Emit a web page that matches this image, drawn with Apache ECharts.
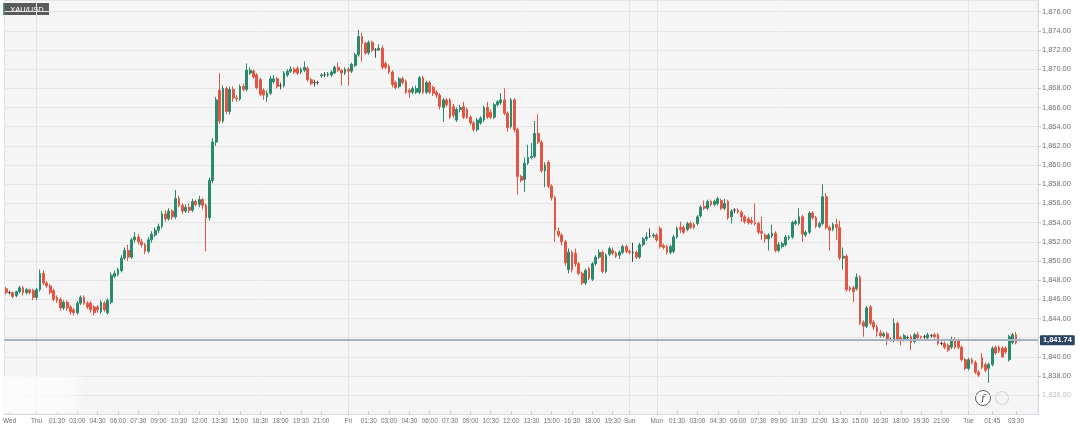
<!DOCTYPE html>
<html>
<head>
<meta charset="utf-8">
<script src="https://cdn.jsdelivr.net/npm/echarts@6/dist/echarts.min.js"></script>
<style>
html,body{margin:0;padding:0;background:#fff;}
#chart{width:1080px;height:428px;}
</style>
</head>
<body>
<div id="chart"></div>
<script>
// ---- trading sessions (day, first candle time, number of 15-minute candles) ----
const sessions = [
  ['Wed','20:45',5],['Wed','23:00',4],
  ['Thu','00:00',88],['Thu','23:00',4],
  ['Fri','00:00',83],
  ['Sun','22:00',8],
  ['Mon','00:00',88],['Mon','23:00',4],
  ['Tue','00:00',21]
];

// ---- x tick labels: [category, shown text] ----
const tickLabels = [
  ['Wed 21:00','Wed'],
  ['Thu 00:00','Thu'],['Thu 01:30','01:30'],['Thu 03:00','03:00'],['Thu 04:30','04:30'],['Thu 06:00','06:00'],
  ['Thu 07:30','07:30'],['Thu 09:00','09:00'],['Thu 10:30','10:30'],['Thu 12:00','12:00'],['Thu 13:30','13:30'],
  ['Thu 15:00','15:00'],['Thu 16:30','16:30'],['Thu 18:00','18:00'],['Thu 19:30','19:30'],['Thu 21:00','21:00'],
  ['Fri 00:00','Fri'],['Fri 01:30','01:30'],['Fri 03:00','03:00'],['Fri 04:30','04:30'],['Fri 06:00','06:00'],
  ['Fri 07:30','07:30'],['Fri 09:00','09:00'],['Fri 10:30','10:30'],['Fri 12:00','12:00'],['Fri 13:30','13:30'],
  ['Fri 15:00','15:00'],['Fri 16:30','16:30'],['Fri 18:00','18:00'],['Fri 19:30','19:30'],
  ['Sun 22:00','Sun'],
  ['Mon 00:00','Mon'],['Mon 01:30','01:30'],['Mon 03:00','03:00'],['Mon 04:30','04:30'],['Mon 06:00','06:00'],
  ['Mon 07:30','07:30'],['Mon 09:00','09:00'],['Mon 10:30','10:30'],['Mon 12:00','12:00'],['Mon 13:30','13:30'],
  ['Mon 15:00','15:00'],['Mon 16:30','16:30'],['Mon 18:00','18:00'],['Mon 19:30','19:30'],['Mon 21:00','21:00'],
  ['Tue 00:00','Tue'],['Tue 01:45','01:45'],['Tue 03:30','03:30']
];

// ---- day separators ----
const dayStarts = ['Thu 00:00','Fri 00:00','Sun 22:00','Mon 00:00','Tue 00:00'];

// ---- y axis ticks ----
const yMin = 1834, yMax = 1877.22, yStep = 2;

// ---- last price ----
const lastPrice = 1841.74;

// ---- XAU/USD 15-minute candles: [open, close, low, high] ----
const candles = [
[1847.1,1846.7,1846.5,1847.3],[1846.7,1846.7,1846.5,1846.9],[1846.7,1846.3,1846.1,1846.8],[1846.4,1846.8,1846.2,1846.9],
[1846.8,1847.2,1846.6,1847.4],[1847.2,1846.7,1846.4,1847.4],[1846.7,1847.0,1846.5,1847.2],[1847.0,1846.7,1846.5,1847.1],
[1846.9,1846.2,1845.9,1847.1],[1846.2,1847.0,1845.9,1847.2],[1847.0,1848.7,1846.8,1849.1],[1848.7,1847.7,1847.5,1849.0],
[1847.7,1847.4,1847.2,1847.9],[1847.4,1846.7,1846.5,1847.6],[1846.9,1846.0,1845.8,1847.1],[1846.2,1845.9,1845.6,1846.4],
[1846.0,1845.1,1844.8,1846.2],[1845.1,1845.7,1844.9,1845.9],[1845.7,1845.1,1844.8,1845.9],[1845.2,1844.7,1844.4,1845.4],
[1844.9,1844.6,1844.3,1845.1],[1844.6,1845.6,1844.4,1845.8],[1845.6,1846.2,1845.4,1846.4],[1846.2,1845.6,1845.4,1846.4],
[1845.6,1845.2,1845.0,1845.8],[1845.6,1844.9,1844.6,1845.8],[1845.2,1844.6,1844.3,1845.4],[1845.2,1844.9,1844.6,1845.4],
[1844.7,1845.7,1844.5,1845.9],[1845.6,1844.9,1844.7,1845.8],[1844.6,1845.9,1844.4,1846.1],[1845.7,1848.5,1845.5,1848.8],
[1848.4,1848.7,1848.2,1849.0],[1848.6,1849.1,1848.4,1849.3],[1849.0,1850.3,1848.8,1850.6],[1850.3,1851.1,1850.1,1851.4],
[1851.1,1850.4,1850.0,1851.7],[1850.4,1852.2,1850.2,1852.4],[1852.2,1852.5,1851.9,1853.0],[1852.5,1852.0,1851.7,1852.8],
[1852.0,1851.7,1851.4,1852.3],[1851.7,1851.0,1850.7,1851.9],[1851.0,1852.2,1850.8,1852.5],[1852.2,1852.8,1851.9,1853.1],
[1852.7,1853.2,1852.5,1853.5],[1853.2,1853.6,1852.9,1853.9],[1853.6,1854.9,1853.4,1855.2],[1854.9,1854.4,1854.1,1855.3],
[1854.4,1855.2,1854.2,1855.5],[1855.2,1854.6,1854.3,1855.4],[1854.6,1856.5,1854.4,1857.4],[1856.5,1855.8,1855.6,1856.8],
[1855.8,1855.2,1854.9,1856.0],[1855.2,1855.6,1855.0,1855.9],[1855.6,1855.3,1855.0,1856.0],[1855.3,1856.2,1855.1,1856.5],
[1856.2,1855.9,1855.7,1856.4],[1855.9,1856.4,1855.6,1856.8],[1856.4,1855.8,1855.4,1856.6],[1855.8,1854.5,1851.0,1856.0],
[1854.5,1858.4,1854.2,1858.7],[1858.4,1862.4,1858.1,1862.8],[1862.4,1866.8,1862.0,1867.1],[1867.8,1864.6,1864.3,1869.6],
[1864.6,1868.0,1864.4,1868.3],[1868.0,1865.6,1865.3,1868.2],[1865.6,1867.9,1865.3,1868.2],[1867.9,1867.0,1866.6,1868.2],
[1867.0,1866.9,1866.6,1867.3],[1866.9,1868.2,1866.7,1868.4],[1868.2,1867.9,1867.7,1868.5],[1867.9,1869.9,1867.7,1870.6],
[1869.6,1869.9,1869.4,1870.2],[1869.8,1869.2,1869.0,1870.0],[1869.4,1868.1,1867.9,1869.6],[1868.9,1867.4,1867.2,1869.1],
[1867.8,1867.3,1866.8,1868.0],[1867.1,1867.5,1866.6,1867.8],[1867.5,1869.0,1867.3,1869.3],[1868.7,1869.0,1868.5,1869.4],
[1869.0,1868.2,1868.0,1869.2],[1868.3,1868.3,1867.9,1868.6],[1868.3,1869.6,1868.1,1869.8],[1869.4,1869.8,1869.2,1870.0],
[1869.8,1870.0,1869.6,1870.3],[1870.0,1869.7,1869.5,1870.2],[1870.1,1869.6,1869.4,1870.3],[1869.7,1870.0,1869.5,1870.2],
[1869.9,1870.2,1869.7,1870.8],[1870.1,1868.9,1868.7,1870.3],[1868.9,1868.5,1868.3,1869.1],[1868.6,1868.6,1868.2,1868.9],
[1868.6,1868.6,1868.4,1868.8],[1869.3,1869.4,1869.1,1869.6],[1869.4,1869.4,1869.2,1869.7],[1869.4,1869.5,1869.2,1869.7],
[1869.4,1869.7,1869.2,1869.9],[1869.6,1870.2,1869.5,1870.4],[1870.2,1869.9,1869.7,1870.7],[1869.9,1869.6,1868.3,1870.0],
[1869.6,1870.0,1869.4,1870.2],[1870.0,1869.8,1868.3,1870.2],[1869.8,1870.5,1869.6,1870.7],[1870.4,1871.5,1870.2,1871.7],
[1871.5,1873.4,1871.3,1874.1],[1873.4,1872.7,1870.8,1873.8],[1872.7,1871.7,1871.5,1872.9],[1871.7,1872.8,1871.5,1873.0],
[1872.8,1872.0,1871.8,1873.0],[1872.0,1872.0,1871.2,1872.2],[1872.0,1872.2,1871.9,1872.6],[1872.2,1870.2,1870.0,1872.5],
[1870.6,1870.2,1870.0,1870.8],[1870.3,1869.7,1869.5,1870.5],[1869.7,1868.4,1868.1,1869.9],[1868.6,1868.1,1867.9,1868.8],
[1868.2,1869.0,1868.0,1869.2],[1869.0,1868.6,1868.4,1869.2],[1868.7,1867.6,1867.4,1868.9],[1867.8,1867.6,1867.0,1868.0],
[1867.6,1868.0,1867.4,1868.2],[1867.6,1868.0,1867.4,1868.3],[1867.6,1869.1,1867.4,1869.3],[1869.1,1867.6,1867.4,1869.3],
[1867.6,1868.6,1867.4,1868.8],[1868.6,1867.6,1867.4,1868.8],[1868.1,1867.5,1867.2,1868.3],[1867.6,1867.3,1867.0,1867.8],
[1867.3,1866.1,1865.8,1867.5],[1866.0,1866.8,1864.5,1867.0],[1866.8,1866.3,1866.1,1867.0],[1866.8,1865.0,1864.8,1867.0],
[1866.1,1865.2,1864.9,1866.4],[1864.7,1865.8,1864.5,1866.0],[1865.8,1866.0,1865.5,1866.3],[1866.1,1865.0,1864.8,1866.6],
[1865.8,1865.0,1864.8,1866.0],[1865.0,1864.4,1864.2,1865.2],[1864.4,1863.7,1863.5,1864.6],[1863.7,1864.7,1863.5,1864.9],
[1864.4,1864.9,1864.2,1865.1],[1864.7,1866.0,1864.5,1866.2],[1866.0,1865.0,1864.8,1866.6],[1865.5,1865.0,1864.8,1865.8],
[1865.0,1866.3,1864.8,1866.5],[1866.3,1866.6,1866.1,1866.8],[1866.5,1866.8,1866.3,1867.5],[1866.8,1865.4,1865.2,1868.0],
[1865.4,1863.9,1863.5,1865.6],[1864.0,1866.8,1863.8,1867.0],[1866.8,1863.7,1863.4,1867.0],[1863.7,1858.8,1856.9,1863.9],
[1858.8,1858.4,1858.2,1859.0],[1858.5,1860.2,1857.2,1860.8],[1860.2,1860.8,1860.0,1862.1],[1860.8,1860.9,1860.6,1862.3],
[1860.9,1863.3,1860.7,1864.6],[1863.3,1862.4,1862.2,1865.3],[1862.4,1859.4,1859.2,1862.6],[1859.4,1860.0,1857.7,1860.3],
[1860.3,1857.8,1857.6,1860.5],[1857.8,1856.6,1856.3,1858.0],[1856.6,1853.2,1852.0,1856.8],[1853.1,1852.7,1852.5,1853.5],
[1852.7,1852.0,1851.6,1852.9],[1852.0,1849.8,1849.5,1852.2],[1849.1,1850.9,1848.7,1851.3],[1850.9,1849.1,1848.8,1851.1],
[1850.8,1849.7,1849.4,1851.3],[1849.7,1848.7,1848.5,1849.9],[1848.7,1847.7,1847.5,1848.9],[1847.7,1849.0,1847.5,1849.2],
[1849.2,1848.2,1848.0,1849.4],[1848.1,1849.7,1847.9,1849.9],[1849.7,1850.4,1849.5,1850.6],[1850.4,1850.9,1850.2,1851.2],
[1850.9,1848.9,1848.7,1851.1],[1848.9,1850.6,1848.7,1850.8],[1850.7,1851.3,1850.5,1851.5],[1851.1,1850.8,1850.6,1851.4],
[1850.8,1850.5,1850.3,1851.0],[1850.6,1850.9,1850.2,1851.1],[1850.9,1851.5,1850.7,1851.7],[1851.5,1851.0,1850.8,1851.7],
[1851.0,1850.9,1850.7,1851.2],[1850.9,1850.9,1849.9,1851.9],[1850.9,1850.4,1850.2,1851.1],[1850.4,1851.7,1850.2,1851.9],
[1851.7,1852.3,1851.5,1852.5],[1852.3,1852.5,1852.1,1853.0],[1852.6,1852.6,1852.4,1853.4],[1852.6,1852.7,1852.4,1852.9],
[1852.7,1852.2,1852.0,1852.9],[1853.4,1851.5,1851.3,1853.6],[1851.6,1851.4,1851.2,1851.8],[1851.5,1850.9,1850.7,1851.7],
[1850.9,1851.5,1850.7,1851.7],[1851.0,1852.5,1850.8,1852.7],[1852.5,1853.4,1852.3,1853.6],[1853.5,1853.3,1852.9,1854.1],
[1853.5,1853.0,1852.8,1853.7],[1853.3,1853.9,1853.1,1854.1],[1853.9,1853.5,1853.3,1854.1],[1853.8,1853.5,1853.3,1854.0],
[1853.9,1854.6,1853.7,1854.8],[1854.7,1855.6,1854.5,1855.8],[1855.7,1855.5,1855.3,1856.3],[1855.5,1856.2,1855.3,1856.4],
[1856.2,1855.9,1855.7,1856.4],[1855.9,1856.2,1855.7,1856.4],[1856.0,1856.5,1855.8,1856.7],[1856.3,1855.5,1855.3,1856.5],
[1855.5,1856.0,1855.3,1856.5],[1856.2,1854.5,1854.3,1856.4],[1854.6,1855.2,1853.9,1855.4],[1855.3,1855.3,1855.0,1855.5],
[1855.3,1855.1,1854.9,1855.5],[1855.1,1854.6,1854.1,1855.3],[1854.6,1854.1,1853.9,1854.8],[1854.4,1854.0,1853.8,1854.6],
[1854.2,1854.0,1853.8,1854.6],[1854.0,1853.9,1853.7,1856.0],[1853.9,1853.0,1852.8,1854.1],[1853.1,1852.9,1852.2,1854.6],
[1852.7,1852.3,1851.9,1852.9],[1852.3,1852.7,1851.1,1852.9],[1852.6,1852.9,1852.4,1853.8],[1852.9,1851.1,1850.9,1853.1],
[1851.1,1851.7,1850.9,1852.0],[1851.5,1851.8,1851.3,1852.0],[1851.7,1852.5,1851.5,1852.7],[1852.4,1852.5,1852.2,1852.7],
[1852.5,1854.0,1852.3,1854.2],[1853.9,1854.1,1853.7,1854.3],[1853.9,1854.6,1853.7,1855.5],[1854.6,1852.8,1852.0,1854.8],
[1852.7,1853.0,1852.5,1853.2],[1853.0,1855.0,1852.8,1855.2],[1855.0,1854.5,1854.3,1855.2],[1854.5,1853.6,1853.4,1854.7],
[1853.6,1853.9,1853.4,1854.1],[1853.9,1856.7,1853.7,1858.0],[1856.7,1853.5,1853.3,1857.1],[1853.5,1853.2,1851.1,1853.7],
[1853.3,1853.8,1853.1,1854.0],[1853.8,1853.5,1852.2,1854.4],[1853.5,1850.3,1850.1,1854.2],[1850.3,1850.5,1849.1,1851.4],
[1850.5,1847.0,1846.8,1850.7],[1847.2,1847.0,1846.8,1847.4],[1847.2,1846.8,1845.7,1847.4],[1847.1,1848.3,1846.9,1848.7],
[1848.3,1843.5,1843.3,1848.5],[1843.6,1843.2,1842.1,1843.8],[1843.2,1845.1,1843.0,1845.3],[1845.2,1843.5,1843.3,1845.4],
[1843.6,1843.1,1842.8,1843.8],[1843.1,1842.6,1842.1,1843.3],[1842.5,1842.2,1842.0,1842.8],[1842.2,1842.4,1842.0,1842.6],
[1842.4,1841.8,1841.2,1842.6],[1841.8,1841.8,1841.6,1842.0],[1841.7,1843.5,1841.5,1844.0],[1843.5,1841.8,1841.6,1843.7],
[1842.0,1841.7,1841.2,1842.2],[1841.8,1842.2,1841.6,1842.4],[1842.0,1842.0,1841.8,1842.2],[1842.1,1841.5,1840.7,1842.3],
[1841.6,1842.3,1841.4,1842.5],[1842.3,1842.0,1841.8,1842.6],[1842.1,1842.0,1841.9,1842.2],[1842.1,1842.1,1841.9,1842.3],
[1842.0,1842.3,1841.8,1842.5],[1842.2,1842.2,1842.0,1842.4],[1842.3,1842.1,1841.9,1842.5],[1842.3,1841.4,1841.2,1842.5],
[1841.4,1841.4,1841.2,1841.6],[1841.4,1841.0,1840.8,1841.6],[1841.2,1840.7,1840.5,1841.4],[1841.0,1841.8,1840.8,1842.1],
[1841.8,1841.0,1840.8,1842.0],[1841.7,1841.0,1840.8,1841.9],[1841.0,1839.7,1839.5,1841.2],[1839.7,1838.8,1838.6,1839.9],
[1838.8,1839.7,1838.6,1839.9],[1839.7,1839.4,1839.2,1839.9],[1839.4,1838.4,1838.2,1839.6],[1838.4,1838.1,1837.9,1838.6],
[1839.9,1838.9,1838.7,1840.4],[1839.2,1838.6,1838.4,1839.4],[1838.8,1839.2,1837.3,1839.4],[1839.2,1840.9,1839.0,1841.1],
[1841.0,1840.4,1840.2,1841.2],[1841.0,1840.6,1840.4,1841.2],[1840.9,1840.0,1839.9,1841.1],[1840.9,1840.5,1840.3,1841.1],
[1839.7,1842.1,1839.5,1842.3],[1841.5,1842.3,1841.3,1842.5],[1842.3,1841.5,1841.3,1842.6],[1841.7,1841.74,1841.6,1841.9]
];

// ---------------- build tables for the library ----------------
function buildCategories(list) {
  const out = [];
  list.forEach(([day, start, count]) => {
    const [h, m] = start.split(':').map(Number);
    for (let k = 0; k < count; k++) {
      const t = h * 60 + m + 15 * k;
      out.push(day + ' ' + String(Math.floor(t / 60)).padStart(2, '0') + ':' + String(t % 60).padStart(2, '0'));
    }
  });
  return out;
}
const categories = buildCategories(sessions);
const labelMap = Object.fromEntries(tickLabels);
const daySet = new Set(dayStarts);

const UP = '#2a8a6e', DOWN = '#e35641', DOJI = '#4a4a4a';
const seriesData = candles.map(d => d[0] === d[1]
  ? { value: d, itemStyle: { color: DOJI, borderColor: DOJI } }
  : d);

function fmtPrice(v) {
  return Number(v).toLocaleString('en-US', { minimumFractionDigits: 2, maximumFractionDigits: 2 });
}

const FONT = '"Liberation Sans", Arial, sans-serif';
const chart = echarts.init(document.getElementById('chart'), null, { renderer: 'canvas' });

chart.setOption({
  animation: false,
  backgroundColor: '#ffffff',
  grid: {
    left: 0, right: 42, top: 0, bottom: 13.65,
    show: true, backgroundColor: '#f5f5f5', borderColor: '#dde2ea', borderWidth: 1
  },
  xAxis: {
    type: 'category',
    data: categories,
    boundaryGap: true,
    axisLine: { show: true, lineStyle: { color: '#d6dbe4', width: 1 } },
    axisTick: {
      show: true, inside: true, length: 3, alignWithLabel: true,
      interval: (i, v) => labelMap[v] !== undefined,
      lineStyle: { color: '#c4c8cf' }
    },
    axisLabel: {
      interval: (i, v) => labelMap[v] !== undefined,
      formatter: (v) => labelMap[v] || '',
      color: '#6e6e6e', fontSize: 6.4, fontFamily: FONT, margin: 4
    },
    splitLine: {
      show: true, alignWithLabel: true,
      interval: (i, v) => daySet.has(v),
      lineStyle: { color: '#e3e3e3', width: 1 }
    }
  },
  yAxis: {
    type: 'value',
    position: 'right',
    min: yMin, max: yMax, interval: yStep,
    scale: true,
    axisLine: { show: true, lineStyle: { color: '#d6dbe4' } },
    axisTick: { show: true, length: 3, lineStyle: { color: '#c4c8cf' } },
    axisLabel: {
      showMinLabel: false, showMaxLabel: false,
      formatter: fmtPrice,
      color: '#6e6e6e', fontSize: 7.4, fontFamily: FONT, margin: 4
    },
    splitLine: { show: true, lineStyle: { color: '#e6e6e6', width: 1 } }
  },
  series: [{
    type: 'candlestick',
    data: seriesData,
    barWidth: 2.3,
    itemStyle: {
      color: UP, color0: DOWN, borderColor: UP, borderColor0: DOWN, borderWidth: 1
    },
    markLine: {
      silent: true, animation: false,
      symbol: ['none', 'none'],
      data: [{ yAxis: lastPrice }],
      lineStyle: { color: '#a6b0c1', width: 2, type: 'solid' },
      label: {
        show: true, position: 'end', distance: 2,
        formatter: () => fmtPrice(lastPrice),
        color: '#ffffff', fontSize: 7.4, fontWeight: 'bold', fontFamily: FONT,
        backgroundColor: '#2c4462', padding: [2, 3, 1, 3], borderRadius: 1
      }
    }
  }],
  graphic: [
    {
      type: 'rect', left: 0, top: 376, z: 50, silent: true,
      shape: { width: 86, height: 37 },
      style: {
        fill: new echarts.graphic.LinearGradient(0, 0, 1, 0, [
          { offset: 0, color: 'rgba(255,255,255,0.75)' },
          { offset: 0.8, color: 'rgba(255,255,255,0.55)' },
          { offset: 1, color: 'rgba(255,255,255,0)' }
        ])
      }
    },
    {
      type: 'rect', left: 1040, top: 388, z: 50, silent: true,
      shape: { width: 40, height: 14 },
      style: { fill: 'rgba(255,255,255,0.55)' }
    },
    {
      type: 'group', left: 975, top: 389, z: 60, silent: true,
      children: [
        { type: 'circle', shape: { cx: 8, cy: 8, r: 7.5 }, style: { fill: '#ffffff', stroke: '#5c5c5c', lineWidth: 1 } },
        { type: 'text', x: 8, y: 8.5, style: { text: 'f', fill: '#3c3c3c', font: 'italic 10px "DejaVu Serif", serif', align: 'center', verticalAlign: 'middle' } },
        { type: 'circle', shape: { cx: 27, cy: 8, r: 6.5 }, style: { fill: 'none', stroke: 'rgba(190,190,190,0.55)', lineWidth: 1.2 } }
      ]
    },
    {
      type: 'group', left: 3, top: 3, z: 100, silent: true,
      children: [
        { type: 'rect', shape: { x: 0, y: 0, width: 46, height: 12 }, style: { fill: '#5a5a5a' } },
        { type: 'rect', shape: { x: 0, y: 0, width: 1.5, height: 12 }, style: { fill: '#3a9d7b' } },
        {
          type: 'text', x: 24, y: 6.5,
          style: {
            text: 'XAU/USD', fill: '#ffffff', font: '7.5px "Liberation Sans", Arial, sans-serif',
            align: 'center', verticalAlign: 'middle'
          }
        }
      ]
    }
  ]
});
</script>
</body>
</html>
